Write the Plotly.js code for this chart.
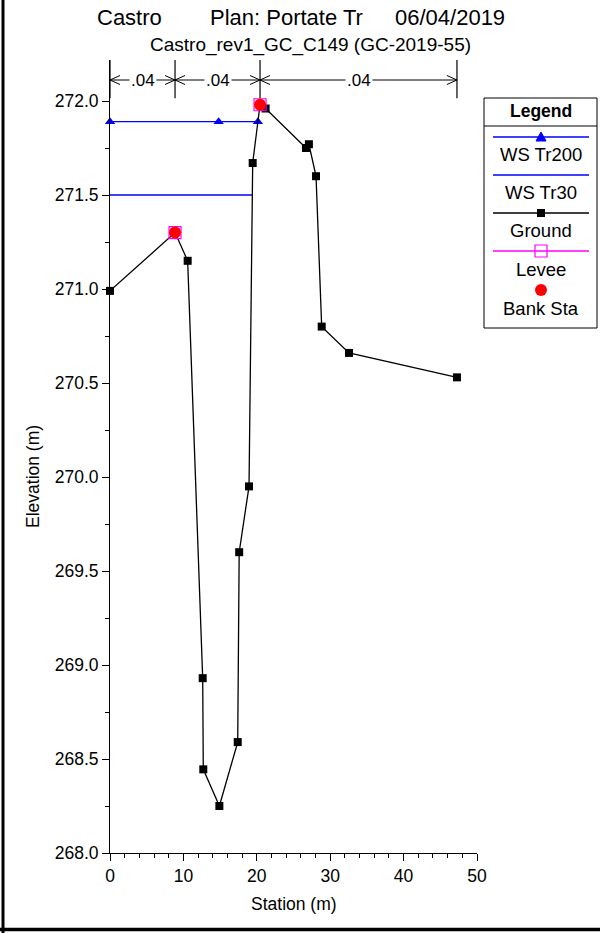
<!DOCTYPE html>
<html><head><meta charset="utf-8">
<script src="https://cdn.plot.ly/plotly-3.0.1.min.js"></script>
<style>html,body{margin:0;padding:0;background:#fff;} #chart{width:600px;height:933px;}</style>
</head><body><div id="chart"></div>
<script>
// ---- data ----
const groundStation = [0, 8.86, 10.58, 12.63, 12.71, 14.9, 17.4, 17.6, 18.94, 19.44, 20.44, 21.2, 26.7, 27.1, 28.07, 28.84, 32.56, 47.27];
const groundElev    = [270.99, 271.30, 271.15, 268.93, 268.445, 268.25, 268.59, 269.60, 269.95, 271.67, 271.98, 271.96, 271.75, 271.77, 271.60, 270.80, 270.66, 270.53];
const ws200Station = [0, 14.8, 20.15];
const ws200Elev    = [271.89, 271.89, 271.89];
const ws30Station  = [0, 19.39];
const ws30Elev     = [271.50, 271.50];
const leveeStation = [8.86, 20.44];
const leveeElev    = [271.30, 271.98];
const bankStation  = [8.86, 20.44];
const bankElev     = [271.30, 271.98];
const nStations = [0, 8.86, 20.44, 47.27];
const nValues   = ['.04', '.04', '.04'];
const legendLabels = ['WS Tr200', 'WS Tr30', 'Ground', 'Levee', 'Bank Sta'];
const titleParts = ['Castro', 'Plan: Portate Tr', '06/04/2019'];
const subtitle = 'Castro_rev1_GC_C149 (GC-2019-55)';

// ---- geometry ----
const W = 600, H = 933, L = 110, R = 477, T = 60, B = 853;
const PXU = 188; // px per metre (y)
const yMin = 268, yMax = 268 + (B - T) / PXU;
const xMin = 0, xMax = 50;
const PXX = (R - L) / (xMax - xMin);
const px = x => (x - L) / (R - L);
const py = y => (B - y) / (B - T);
const FONT = 'Liberation Sans, Arial, sans-serif';

const shapes = [];
const annotations = [];
function txt(x, y, t, size, extra) {
  annotations.push(Object.assign({xref:'paper', yref:'paper', x:px(x), y:py(y), xanchor:'center', yanchor:'middle',
    text:t, showarrow:false, font:{family:FONT, size:size, color:'black'}}, extra || {}));
}

// Manning n bands
const nTop = yMax, nBot = 272.015, nArrowY = 272 + (101 - 80) / PXU;
nStations.forEach(s => shapes.push({type:'line', xref:'x', yref:'y', x0:s, x1:s, y0:nBot, y1:nTop, line:{color:'black', width:1.2}, layer:'below'}));
const cdx = 10 / PXX, cdy = 4.5 / PXU;
for (let i = 0; i < nValues.length; i++) {
  const a = nStations[i], b = nStations[i + 1];
  shapes.push({type:'line', xref:'x', yref:'y', x0:a, x1:b, y0:nArrowY, y1:nArrowY, line:{color:'black', width:1}, layer:'below'});
  shapes.push({type:'path', xref:'x', yref:'y', layer:'below', line:{color:'black', width:1},
    path:`M${a+cdx},${nArrowY+cdy} L${a},${nArrowY} L${a+cdx},${nArrowY-cdy}`});
  shapes.push({type:'path', xref:'x', yref:'y', layer:'below', line:{color:'black', width:1},
    path:`M${b-cdx},${nArrowY+cdy} L${b},${nArrowY} L${b-cdx},${nArrowY-cdy}`});
  annotations.push({xref:'x', yref:'y', x:(a + b) / 2, y:nArrowY, xanchor:'center', yanchor:'middle', text:nValues[i], showarrow:false,
    bgcolor:'white', borderpad:1, font:{family:FONT, size:17, color:'black'}});
}

// Titles
txt(95, 17, titleParts[0], 22, {xanchor:'left'});
txt(208, 17, titleParts[1], 22, {xanchor:'left'});
txt(393, 17, titleParts[2], 22, {xanchor:'left'});
txt(310, 45, subtitle, 19);

// Axis titles
txt(293.5, 904, 'Station (m)', 17.5);
txt(33, 477, 'Elevation (m)', 17.5, {textangle:-90});

// Legend box
const lgL = 484, lgR = 597, lgT = 98, lgB = 328, lgC = 540.5;
shapes.push({type:'rect', xref:'paper', yref:'paper', x0:px(lgL), x1:px(lgR), y0:py(lgT), y1:py(lgB), line:{color:'black', width:1}, fillcolor:'white'});
shapes.push({type:'line', xref:'paper', yref:'paper', x0:px(lgL), x1:px(lgR), y0:py(126), y1:py(126), line:{color:'black', width:1}});
txt(lgC, 111, '<b>Legend</b>', 17.5);
const lineYs = [137, 175, 213, 251];
const lineCols = ['#0000FF', '#0000FF', 'black', '#FF00FF'];
lineYs.forEach((y, i) => shapes.push({type:'line', xref:'paper', yref:'paper', x0:px(493), x1:px(589), y0:py(y), y1:py(y), line:{color:lineCols[i], width:1.3}}));
const textYs = [154, 192, 230, 269, 308];
legendLabels.forEach((t, i) => txt(lgC, textYs[i], t, 18.5));
// legend symbols
const mx = 541;
shapes.push({type:'path', xref:'paper', yref:'paper', fillcolor:'#0000FF', line:{color:'#0000FF', width:1},
  path:`M${px(mx-5)},${py(141)} L${px(mx+5)},${py(141)} L${px(mx)},${py(132)} Z`});
shapes.push({type:'rect', xref:'paper', yref:'paper', x0:px(mx-4), x1:px(mx+4), y0:py(209), y1:py(217), fillcolor:'black', line:{color:'black', width:0}});
shapes.push({type:'rect', xref:'paper', yref:'paper', x0:px(mx-6), x1:px(mx+6), y0:py(245), y1:py(257), fillcolor:'rgba(0,0,0,0)', line:{color:'#FF00FF', width:1.2}});
shapes.push({type:'circle', xref:'paper', yref:'paper', x0:px(mx-6), x1:px(mx+6), y0:py(284), y1:py(296), fillcolor:'#FF0000', line:{color:'#FF0000', width:0}});

// Outer frame
shapes.push({type:'line', xref:'paper', yref:'paper', x0:px(3), x1:px(3), y0:py(0), y1:py(933), line:{color:'black', width:3}});
shapes.push({type:'line', xref:'paper', yref:'paper', x0:px(0), x1:px(600), y0:py(929.5), y1:py(929.5), line:{color:'black', width:3.5}});

const traces = [
  {x:ws200Station, y:ws200Elev, mode:'lines+markers', line:{color:'#0000FF', width:1.3},
   marker:{symbol:'triangle-up', size:9, color:'#0000FF'}, cliponaxis:false, name:legendLabels[0]},
  {x:ws30Station, y:ws30Elev, mode:'lines', line:{color:'#0000FF', width:1.3}, cliponaxis:false, name:legendLabels[1]},
  {x:groundStation, y:groundElev, mode:'lines+markers', line:{color:'black', width:1.3},
   marker:{symbol:'square', size:8, color:'black'}, cliponaxis:false, name:legendLabels[2]},
  {x:leveeStation, y:leveeElev, mode:'markers', marker:{symbol:'square-open', size:12, color:'#FF00FF', line:{width:1.2}}, cliponaxis:false, name:legendLabels[3]},
  {x:bankStation, y:bankElev, mode:'markers', marker:{symbol:'circle', size:12, color:'#FF0000'}, cliponaxis:false, name:legendLabels[4]}
];

const layout = {
  width:W, height:H, showlegend:false,
  margin:{l:L, r:W - R, t:T, b:H - B, pad:0},
  paper_bgcolor:'white', plot_bgcolor:'white',
  font:{family:FONT, color:'black'},
  xaxis:{range:[xMin, xMax], showgrid:false, zeroline:false, showline:true, linecolor:'black', linewidth:1,
    ticks:'outside', ticklen:7, tickcolor:'black', dtick:10, tick0:0,
    minor:{dtick:2, ticks:'outside', ticklen:4, tickcolor:'black'},
    tickfont:{family:FONT, size:17.5, color:'black'}},
  yaxis:{range:[yMin, yMax], showgrid:false, zeroline:false, showline:true, linecolor:'black', linewidth:1,
    ticks:'outside', ticklen:7, tickcolor:'black', dtick:0.5, tick0:268, tickformat:'.1f',
    minor:{dtick:0.25, ticks:'outside', ticklen:4, tickcolor:'black'},
    tickfont:{family:FONT, size:17.5, color:'black'}},
  shapes:shapes, annotations:annotations
};
Plotly.newPlot('chart', traces, layout, {displayModeBar:false, staticPlot:true});
</script></body></html>
